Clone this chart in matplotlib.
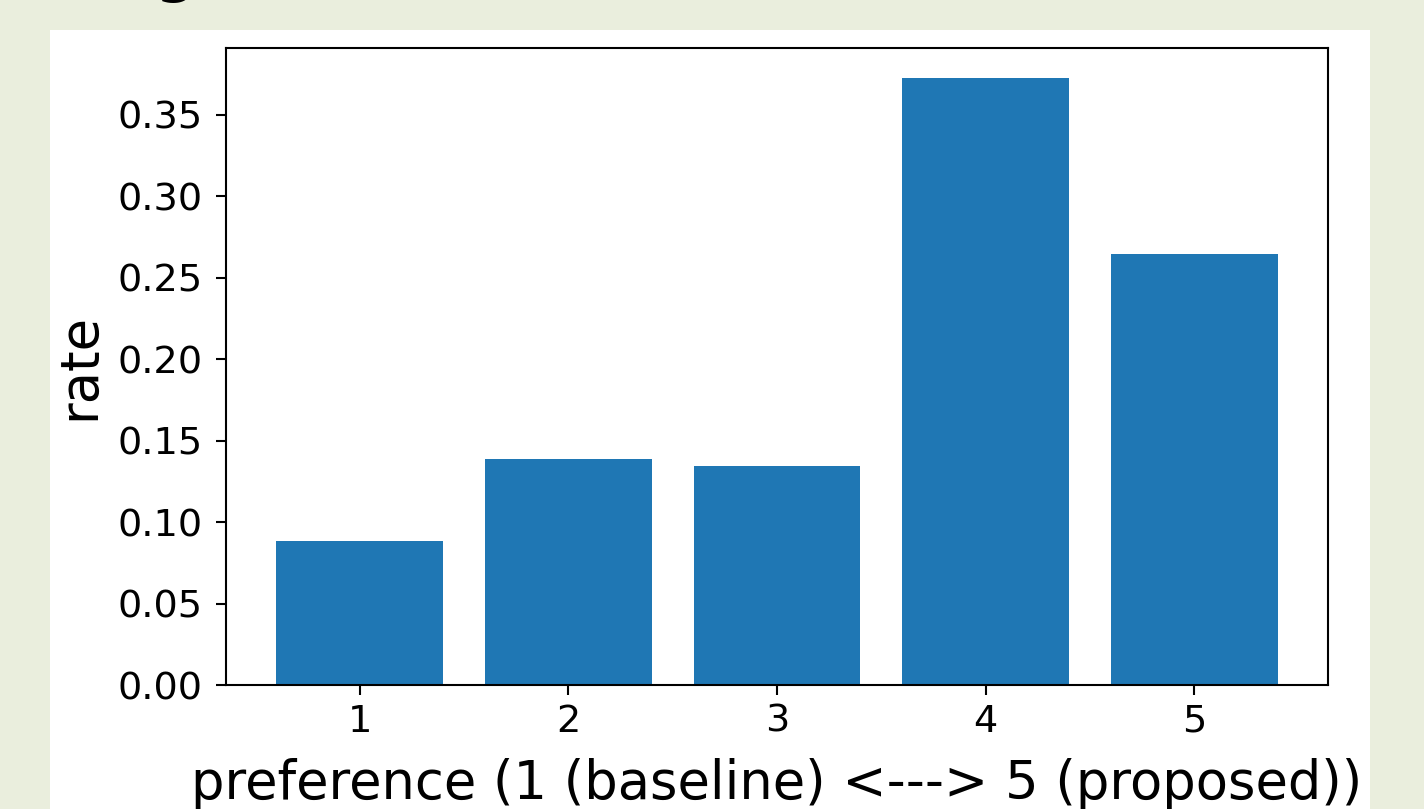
import matplotlib
matplotlib.use("Agg")
import matplotlib.pyplot as plt

categories = [1, 2, 3, 4, 5]
rates = [0.0885, 0.1388, 0.1345, 0.3722, 0.2647]
x_label = "preference (1 (baseline) <---> 5 (proposed))"
y_label = "rate"

W, H = 1424, 809
dpi = 100
fig = plt.figure(figsize=(W / dpi, H / dpi), dpi=dpi)
fig.patch.set_facecolor("#eaeedd")

# white slide panel
bg = fig.add_axes([50 / W, 0, 1320 / W, (H - 30) / H], zorder=0)
bg.set_facecolor("white")
bg.set_xticks([])
bg.set_yticks([])
for s in bg.spines.values():
    s.set_visible(False)

# cut-off title fragment at the very top
fig.text(156 / W, (H + 9) / H, "g", fontsize=40, fontweight="bold",
         color="black", va="baseline", ha="left")

ax = fig.add_axes([226 / W, (H - 685) / H, (1328 - 226) / W, (685 - 48) / H], zorder=2)
ax.bar(categories, rates, width=0.8, color="#1f77b4")
ax.set_xticks(categories)
ax.tick_params(labelsize=27.5, width=1.5, length=7.2)
ax.tick_params(axis="x", pad=6.3)
ax.tick_params(axis="y", pad=9.5)
for s in ax.spines.values():
    s.set_linewidth(1.5)
ax.set_xlabel(x_label, fontsize=38)
ax.set_ylabel(y_label, fontsize=38)
ax.xaxis.set_label_coords(0.5, (685 - 758) / 637)
ax.yaxis.set_label_coords((106 - 226) / 1102, 0.5)

fig.savefig("out.png", dpi=dpi)
